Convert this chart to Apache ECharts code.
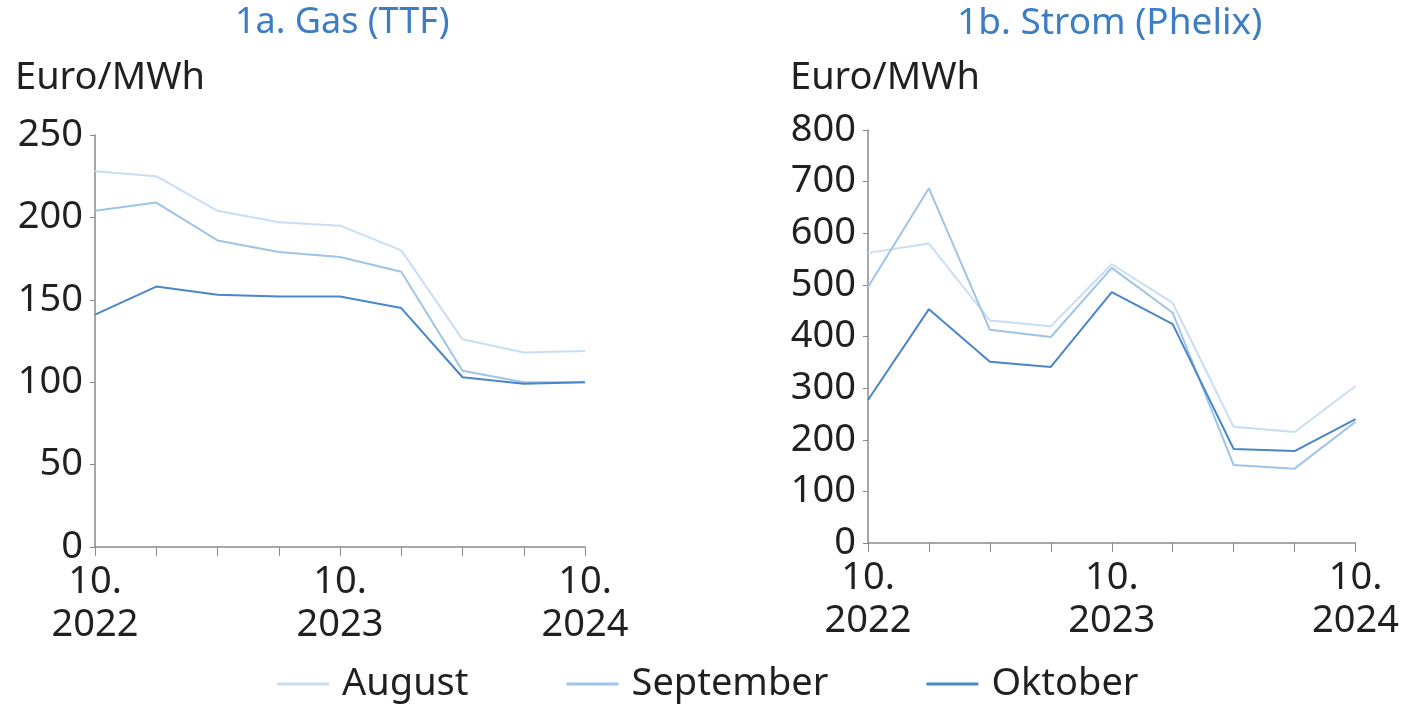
<!DOCTYPE html>
<html>
<head>
<meta charset="utf-8">
<script src="https://cdn.jsdelivr.net/npm/echarts@6/dist/echarts.min.js"></script>
<style>
html, body { margin: 0; padding: 0; background: #fff; }
#chart { width: 1402px; height: 708px; }
</style>
</head>
<body>
<div id="chart"></div>
<script>
// Quartale 10.2022 - 10.2024
var quarters = ['10.\n2022', '1.2023', '4.2023', '7.2023', '10.\n2023', '1.2024', '4.2024', '7.2024', '10.\n2024'];
var seriesNames = ['August', 'September', 'Oktober'];

// 1a. Gas (TTF), Euro/MWh
var gasAugust = [228, 225, 204, 197, 195, 180, 126, 118, 119];
var gasSeptember = [204, 209, 186, 179, 176, 167, 107, 100, 100];
var gasOktober = [141, 158, 153, 152, 152, 145, 103, 99, 100];

// 1b. Strom (Phelix), Euro/MWh
var stromAugust = [562, 580, 431, 420, 540, 465, 225, 215, 304];
var stromSeptember = [496, 687, 413, 399, 533, 446, 151, 144, 235];
var stromOktober = [277, 453, 351, 341, 486, 424, 182, 178, 240];

var colors = ['#c9def2', '#9ec4e8', '#4a86c8'];
var font = 'Noto Sans';

var myChart = echarts.init(document.getElementById('chart'));

function xAxisFor(gridIndex) {
	return {
		type: 'category',
		gridIndex: gridIndex,
		data: quarters,
		boundaryGap: false,
		axisLine: { lineStyle: { color: '#8a8a8a', width: 1.5 } },
		axisTick: { show: true, length: 9, interval: 0, lineStyle: { color: '#8a8a8a' } },
		axisLabel: {
			interval: function (idx) { return idx % 4 === 0; },
			color: '#231f20',
			fontFamily: font,
			fontSize: 38,
			lineHeight: 43,
			margin: 14
		}
	};
}

function yAxisFor(gridIndex, max, interval) {
	return {
		type: 'value',
		gridIndex: gridIndex,
		min: 0,
		max: max,
		interval: interval,
		splitLine: { show: false },
		axisLine: { show: true, lineStyle: { color: '#8a8a8a', width: 1.5 } },
		axisTick: { show: true, length: 5, lineStyle: { color: '#8a8a8a' } },
		axisLabel: {
			color: '#231f20',
			fontFamily: font,
			fontSize: 38,
			margin: 12
		}
	};
}

function line(name, data, idx, axisIdx) {
	return {
		name: name,
		type: 'line',
		xAxisIndex: axisIdx,
		yAxisIndex: axisIdx,
		data: data,
		symbol: 'none',
		lineStyle: { color: colors[idx], width: 2 },
		itemStyle: { color: colors[idx] },
		z: 2 + idx
	};
}

var option = {
	animation: false,
	title: [
		{ text: '1a. Gas (TTF)', left: 230, top: 0, textStyle: { color: '#3c7dc4', fontFamily: font, fontSize: 36, fontWeight: 'normal' } },
		{ text: '1b. Strom (Phelix)', left: 952, top: 0, textStyle: { color: '#3c7dc4', fontFamily: font, fontSize: 37, fontWeight: 'normal' } },
		{ text: 'Euro/MWh', left: 10, top: 54, textStyle: { color: '#231f20', fontFamily: font, fontSize: 38, fontWeight: 'normal' } },
		{ text: 'Euro/MWh', left: 785, top: 54, textStyle: { color: '#231f20', fontFamily: font, fontSize: 38, fontWeight: 'normal' } }
	],
	legend: {
		data: seriesNames,
		top: 660,
		left: 272,
		icon: 'rect',
		itemWidth: 52,
		itemHeight: 3,
		itemGap: 98,
		textStyle: { color: '#231f20', fontFamily: font, fontSize: 38, padding: [0, 0, 0, 8] }
	},
	grid: [
		{ left: 95, right: 817, top: 135, bottom: 161 },
		{ left: 868, right: 46, top: 130, bottom: 165 }
	],
	xAxis: [xAxisFor(0), xAxisFor(1)],
	yAxis: [yAxisFor(0, 250, 50), yAxisFor(1, 800, 100)],
	series: [
		line('August', gasAugust, 0, 0),
		line('September', gasSeptember, 1, 0),
		line('Oktober', gasOktober, 2, 0),
		line('August', stromAugust, 0, 1),
		line('September', stromSeptember, 1, 1),
		line('Oktober', stromOktober, 2, 1)
	]
};

myChart.setOption(option);
</script>
</body>
</html>
